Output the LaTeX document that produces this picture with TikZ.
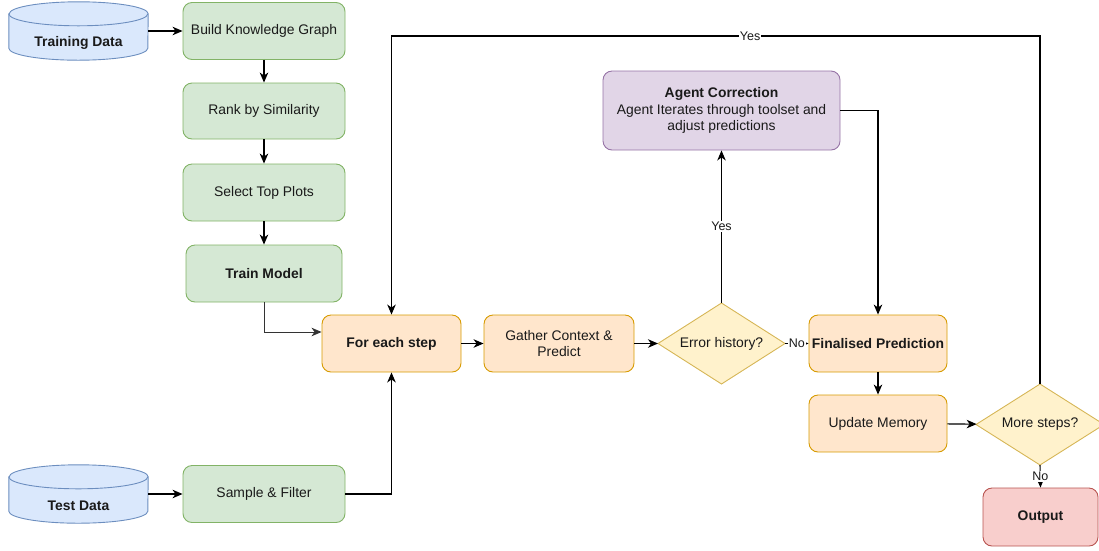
\documentclass[tikz,border=0pt]{standalone}
\usepackage{fontspec}
\setmainfont{Liberation Sans}
\usetikzlibrary{shapes.geometric,arrows.meta,calc}
\definecolor{gfill}{HTML}{D5E8D4}\definecolor{gline}{HTML}{82B366}
\definecolor{bfill}{HTML}{DAE8FC}\definecolor{bline}{HTML}{6C8EBF}
\definecolor{ofill}{HTML}{FFE6CC}\definecolor{oline}{HTML}{D79B00}
\definecolor{yfill}{HTML}{FFF2CC}\definecolor{yline}{HTML}{D6B656}
\definecolor{pfill}{HTML}{E1D5E7}\definecolor{pline}{HTML}{9673A6}
\definecolor{rfill}{HTML}{F8CECC}\definecolor{rline}{HTML}{B85450}
\definecolor{txt}{HTML}{1A1A1A}
\begin{document}
\begin{tikzpicture}[x=1pt,y=1pt,
  nf/.style={font=\fontsize{13.9}{16.3}\selectfont},
  bf/.style={font=\fontsize{13.9}{16.3}\selectfont\bfseries},
  box/.style={rectangle, rounded corners=9pt, draw, line width=0.9pt, align=center, inner sep=2pt, text=txt, nf},
  greenbox/.style={box, fill=gfill, draw=gline, minimum width=162pt, minimum height=57pt},
  orangebox/.style={box, fill=ofill, draw=oline, minimum width=139pt, minimum height=57pt},
  purplebox/.style={box, fill=pfill, draw=pline, minimum width=237pt, minimum height=79pt},
  redbox/.style={box, fill=rfill, draw=rline, minimum width=115pt, minimum height=58pt},
  decision/.style={diamond, aspect=1.57, draw=yline, fill=yfill, line width=0.9pt, inner sep=0pt, outer sep=0pt, text=txt, nf, minimum width=127pt, minimum height=81pt},
  dbnode/.style={rectangle, draw=none, minimum width=139pt, minimum height=58pt, inner sep=0pt},
  dbshape/.style={draw=bline, fill=bfill, line width=0.9pt},
  conn/.style={draw=black, line width=1.1pt, -{Stealth[length=10pt,width=8.5pt,inset=3pt]}},
  lbl/.style={fill=white, inner sep=1pt, text=txt, font=\fontsize{12.5}{14}\selectfont}
]
\useasboundingbox (0,0) rectangle (1099,-550);

% cylinders
\newcommand\drawdb[1]{%
  \filldraw[dbshape] ([yshift=-12pt]#1.north west) -- ([yshift=12pt]#1.south west)
    arc (180:360:69.5pt and 12pt) -- ([yshift=-12pt]#1.north east)
    arc (0:180:69.5pt and 12pt) -- cycle;
  \draw[dbshape, fill=none] ([yshift=-12pt]#1.north west) arc (180:360:69.5pt and 12pt);}

\node[dbnode] (traindata) at (78.5,-31) {};
\drawdb{traindata}
\node[bf, text=txt] at ($(traindata.center)+(0,-12)$) {Training Data};
\node[dbnode] (testdata) at (78.5,-494) {};
\drawdb{testdata}
\node[bf, text=txt] at ($(testdata.center)+(0,-12)$) {Test Data};

\node[greenbox] (bkg) at (264,-31) {Build Knowledge Graph};
\node[greenbox, minimum height=56pt] (rank) at (264,-111) {Rank by Similarity};
\node[greenbox] (select) at (264,-192.5) {Select Top Plots};
\node[greenbox, minimum width=156pt, bf] (trainm) at (264,-273.5) {Train Model};
\node[greenbox] (sample) at (264,-494) {Sample \& Filter};

\node[orangebox, bf] (foreach) at (391.5,-343.5) {For each step};
\node[orangebox, minimum width=150pt] (gather) at (559,-343.5) {Gather Context \&\\Predict};
\node[decision] (errh) at (721.5,-343.5) {Error history?};
\node[orangebox, minimum width=138pt, bf] (final) at (878,-343.5) {Finalised Prediction};
\node[purplebox] (agent) at (721.5,-110.5) {{\bfseries Agent Correction}\\Agent Iterates through toolset and\\adjust predictions};
\node[orangebox, minimum width=138pt] (update) at (878,-423.5) {Update Memory};
\node[decision, minimum width=128pt] (more) at (1040,-424.5) {More steps?};
\node[redbox, bf] (out) at (1040.5,-517) {Output};

% connectors
\draw[conn] (traindata.east) -- (bkg.west);
\draw[conn] (bkg) -- (rank);
\draw[conn] (rank) -- (select);
\draw[conn] (select) -- (trainm);
\draw[conn, line width=0.9pt, draw=black!80] (trainm.south) |- ([yshift=11.5pt]foreach.west);
\draw[conn] (testdata.east) -- (sample.west);
\draw[conn] (sample.east) -| (foreach.south);
\draw[conn] (foreach) -- (gather);
\draw[conn] (gather) -- (errh);
\draw[conn] (errh.north) -- node[lbl]{Yes} (agent.south);
\draw[conn] (errh.east) -- node[lbl]{No} (final.west);
\draw[conn] (agent.east) -| (final.north);
\draw[conn] (final) -- (update);
\draw[conn] (update) -- (more);
\draw[conn] (more.north) -- (more.north |- 0,-36) -- node[lbl, pos=0.447]{Yes} (foreach.north |- 0,-36) -- (foreach.north);
\draw[conn] (more.south) -- node[lbl]{No} (out.north);
\end{tikzpicture}
\end{document}
